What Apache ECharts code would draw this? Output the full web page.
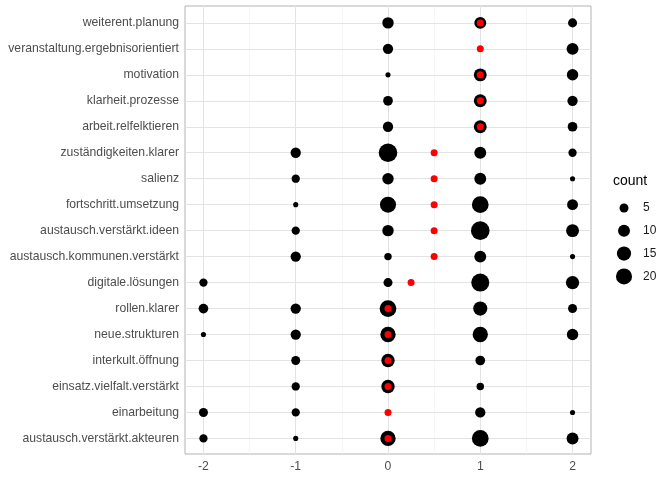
<!DOCTYPE html>
<html>
<head>
<meta charset="utf-8">
<script src="https://cdn.jsdelivr.net/npm/echarts@6/dist/echarts.min.js"></script>
<style>
  html, body { margin: 0; padding: 0; background: #fff; }
  #chart-container { width: 672px; height: 480px; }
</style>
</head>
<body>
<div id="chart-container"></div>
<script>
// items, top to bottom
const categories = [
  'weiterent.planung', 'veranstaltung.ergebnisorientiert', 'motivation',
  'klarheit.prozesse', 'arbeit.relfelktieren', 'zuständigkeiten.klarer',
  'salienz', 'fortschritt.umsetzung', 'austausch.verstärkt.ideen',
  'austausch.kommunen.verstärkt', 'digitale.lösungen', 'rollen.klarer',
  'neue.strukturen', 'interkult.öffnung', 'einsatz.vielfalt.verstärkt',
  'einarbeitung', 'austausch.verstärkt.akteuren'
];
const levels = [-2, -1, 0, 1, 2];
const minorTicks = [-1.5, -0.5, 0.5, 1.5];

// counts per answer level (null = no answers)
const countsM2 = [null, null, null, null, null, null, null, null, null, null, 4, 6, 1, null, null, 5, 4];
const countsM1 = [null, null, null, null, null, 7, 4, 1, 4, 7, null, 7, 7, 5, 4, 4, 1];
const counts0  = [9, 7, 1, 6, 7, 28, 9, 20, 9, 3, 5, 22, 18, 13, 13, 1, 18];
const counts1  = [10, 1, 12, 12, 12, 10, 10, 22, 28, 10, 26, 15, 18, 6, 3, 7, 22];
const counts2  = [5, 10, 9, 7, 6, 4, 1, 8, 12, 1, 13, 5, 9, null, null, 1, 10];

// red marker per item
const centers = [1, 1, 1, 1, 1, 0.5, 0.5, 0.5, 0.5, 0.5, 0.25, 0, 0, 0, 0, 0, 0];

const legendBreaks = [5, 10, 15, 20];

const sizeOf = c => 2 + 3.14 * Math.sqrt(c);
const fontFam = 'Liberation Sans, Arial, sans-serif';

const countCols = [countsM2, countsM1, counts0, counts1, counts2];
let pts = [];
countCols.forEach((col, j) => {
  col.forEach((c, i) => {
    if (c != null) pts.push([levels[j], i, c]);
  });
});
const centerPts = centers.map((v, i) => [v, i]);
const rowIdx = categories.map((c, i) => i);

const axisFont = { color: '#4d4d4d', fontSize: 12.2, fontFamily: fontFam };
const majorLine = { color: '#e3e3e3', width: 1, type: 'solid' };
const minorLine = { color: '#f0f0f0', width: 0.6, type: 'solid' };

let gridLines = [];
levels.forEach(v => gridLines.push({ xAxis: v, lineStyle: majorLine }));
minorTicks.forEach(v => gridLines.push({ xAxis: v, lineStyle: minorLine }));
rowIdx.forEach(i => gridLines.push({ yAxis: i, lineStyle: majorLine }));

// size legend (keys drawn with the same size function as the points)
let legendEls = [{
  type: 'text', left: 613, top: 174,
  style: { text: 'count', fill: '#000', fontSize: 14, fontFamily: fontFam }
}];
legendBreaks.forEach((b, k) => {
  const cy = 208 + k * 22.8;
  legendEls.push({
    type: 'circle', shape: { cx: 624, cy: cy, r: sizeOf(b) / 2 },
    style: { fill: '#000' }
  });
  legendEls.push({
    type: 'text', x: 643, y: cy,
    style: { text: String(b), fill: '#1a1a1a', fontSize: 12, fontFamily: fontFam, verticalAlign: 'middle' }
  });
});

const myChart = echarts.init(document.getElementById('chart-container'));
const option = {
  animation: false,
  graphic: legendEls,
  grid: {
    left: 185, right: 81, top: 6, bottom: 26,
    show: true, borderColor: '#b3b3b3', borderWidth: 1
  },
  xAxis: {
    type: 'value',
    min: -2.2,
    max: 2.2,
    axisLine: { show: false },
    axisTick: { show: true, customValues: levels, length: 4, lineStyle: { color: '#b3b3b3' } },
    axisLabel: { customValues: levels, margin: 7, formatter: v => String(v), ...axisFont },
    splitLine: { show: false }
  },
  yAxis: {
    type: 'value',
    inverse: true,
    min: -0.65,
    max: categories.length - 0.4,
    axisLine: { show: false },
    axisTick: { show: true, customValues: rowIdx, length: 4, lineStyle: { color: '#b3b3b3' } },
    axisLabel: { customValues: rowIdx, margin: 6, formatter: v => categories[Math.round(v)], ...axisFont },
    splitLine: { show: false }
  },
  series: [
    {
      name: 'grid',
      type: 'scatter',
      data: [],
      z: 1,
      silent: true,
      markLine: { z: 1, silent: true, symbol: ['none', 'none'], label: { show: false }, animation: false, data: gridLines }
    },
    {
      name: 'count',
      type: 'scatter',
      data: pts,
      z: 3,
      symbolSize: v => sizeOf(v[2]),
      itemStyle: { color: '#000', opacity: 1 }
    },
    {
      name: 'center',
      type: 'scatter',
      data: centerPts,
      z: 4,
      symbolSize: 7,
      itemStyle: { color: '#ff0000', opacity: 1 }
    }
  ]
};
myChart.setOption(option);
</script>
</body>
</html>
